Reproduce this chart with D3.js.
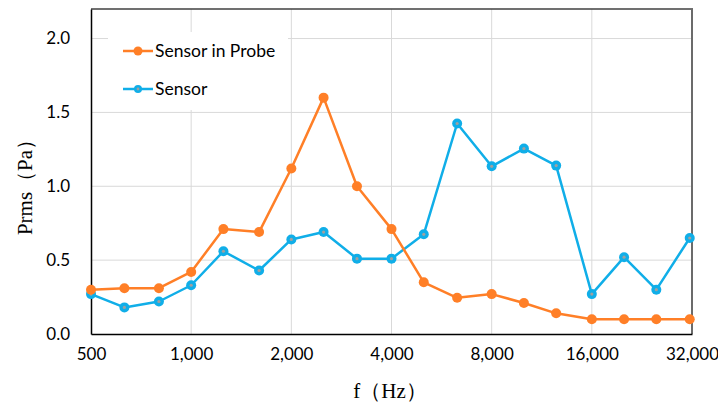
<!DOCTYPE html>
<html>
<head>
<meta charset="utf-8">
<script src="https://cdn.jsdelivr.net/npm/d3@7/dist/d3.min.js"></script>
<style>
  html, body { margin: 0; padding: 0; background: #fff; }
  svg { display: block; }
</style>
</head>
<body>
<svg id="chart" width="718" height="403"></svg>
<script>
// One-third-octave band centre frequencies (Hz)
const freqs = [500, 630, 800, 1000, 1250, 1600, 2000, 2500, 3150, 4000, 5000, 6300, 8000, 10000, 12500, 16000, 20000, 25000, 31500];
// RMS pressure (Pa) per band
const probeValues  = [0.30, 0.31, 0.31, 0.42, 0.71, 0.69, 1.12, 1.60, 1.00, 0.71, 0.35, 0.245, 0.27, 0.21, 0.14, 0.10, 0.10, 0.10, 0.10];
const sensorValues = [0.27, 0.18, 0.22, 0.33, 0.56, 0.43, 0.64, 0.69, 0.51, 0.51, 0.675, 1.425, 1.135, 1.255, 1.14, 0.27, 0.52, 0.30, 0.65];
const xTicks = [500, 1000, 2000, 4000, 8000, 16000, 32000];
const yTicks = [0.0, 0.5, 1.0, 1.5, 2.0];
const seriesNames = ["Sensor in Probe", "Sensor"];

const svg = d3.select("#chart");
const plotL = 91, plotR = 692, plotT = 9, plotB = 334;

const x = d3.scaleLog().base(2).domain([500, 32000]).range([plotL, plotR]);
const y = d3.scaleLinear().domain([0, 2.2]).range([plotB, plotT]);

const numFont = "Lato, 'Open Sans', sans-serif";
const serif = "'Liberation Serif', 'Times New Roman', serif";

// grid
const grid = svg.append("g");
grid.selectAll("line.v").data(xTicks.slice(1, -1)).join("line")
  .attr("x1", d => x(d)).attr("x2", d => x(d))
  .attr("y1", plotT).attr("y2", plotB)
  .attr("stroke", "#d9d9d9").attr("stroke-width", 1);
grid.selectAll("line.h").data(yTicks.slice(1)).join("line")
  .attr("x1", plotL).attr("x2", plotR)
  .attr("y1", d => y(d)).attr("y2", d => y(d))
  .attr("stroke", "#d9d9d9").attr("stroke-width", 1);

// top and right frame
svg.append("line").attr("x1", plotL).attr("x2", plotR + 1).attr("y1", plotT).attr("y2", plotT)
  .attr("stroke", "#404040").attr("stroke-width", 1.5);
svg.append("line").attr("x1", plotR).attr("x2", plotR).attr("y1", plotT).attr("y2", plotB)
  .attr("stroke", "#6b6b6b").attr("stroke-width", 2);

// axes
const xAxis = d3.axisBottom(x).tickValues(xTicks).tickSize(0).tickPadding(14)
  .tickFormat(d3.format(","));
const gx = svg.append("g").attr("transform", `translate(0,${plotB})`).call(xAxis);
gx.select(".domain").attr("stroke", "#000").attr("stroke-width", 1.5);
gx.selectAll("text").attr("font-family", numFont).attr("font-size", 17).attr("fill", "#000");

const yAxis = d3.axisLeft(y).tickValues(yTicks).tickSize(0).tickPadding(21)
  .tickFormat(d3.format(".1f"));
const gy = svg.append("g").attr("transform", `translate(${plotL},0)`).call(yAxis);
gy.select(".domain").attr("stroke", "#000").attr("stroke-width", 1.5);
gy.selectAll("text").attr("font-family", numFont).attr("font-size", 17).attr("fill", "#000");

// axis titles
svg.append("text").attr("x", 390).attr("y", 398).attr("text-anchor", "middle")
  .attr("font-family", serif).attr("font-size", 21).text("f（Hz）");
svg.append("text").attr("transform", "translate(32,182) rotate(-90)").attr("text-anchor", "middle")
  .attr("font-family", serif).attr("font-size", 21).text("Prms（Pa）");

const colors = ["#ff7f27", "#10aee8"];
const line = d3.line().x(d => x(d[0])).y(d => y(d[1]));

function drawSeries(values, color, dotted) {
  const pts = freqs.map((f, i) => [f, values[i]]);
  const g = svg.append("g");
  g.append("path").datum(pts).attr("d", line).attr("fill", "none")
    .attr("stroke", color).attr("stroke-width", 2.5).attr("stroke-linejoin", "round");
  g.selectAll("circle.m").data(pts).join("circle")
    .attr("cx", d => x(d[0])).attr("cy", d => y(d[1])).attr("r", 5)
    .attr("fill", color);
  if (dotted) {
    g.selectAll("circle.c").data(pts).join("circle")
      .attr("cx", d => x(d[0])).attr("cy", d => y(d[1])).attr("r", 1.6)
      .attr("fill", "#a0a0a0");
  }
}

// legend background
svg.append("rect").attr("x", 108).attr("y", 32).attr("width", 180).attr("height", 78).attr("fill", "#fff");

drawSeries(sensorValues, colors[1], true);
drawSeries(probeValues, colors[0], false);

// legend
const legend = svg.append("g");
seriesNames.forEach((name, i) => {
  const ly = 51 + i * 38;
  legend.append("line").attr("x1", 123).attr("x2", 153).attr("y1", ly).attr("y2", ly)
    .attr("stroke", colors[i]).attr("stroke-width", 2.5);
  legend.append("circle").attr("cx", 138).attr("cy", ly).attr("r", i === 0 ? 4.5 : 4).attr("fill", colors[i]);
  if (i === 1) legend.append("circle").attr("cx", 138).attr("cy", ly).attr("r", 1.4).attr("fill", "#a0a0a0");
  legend.append("text").attr("x", 155).attr("y", ly + 6)
    .attr("font-family", numFont).attr("font-size", 17.5).attr("fill", "#000").text(name);
});
</script>
</body>
</html>
